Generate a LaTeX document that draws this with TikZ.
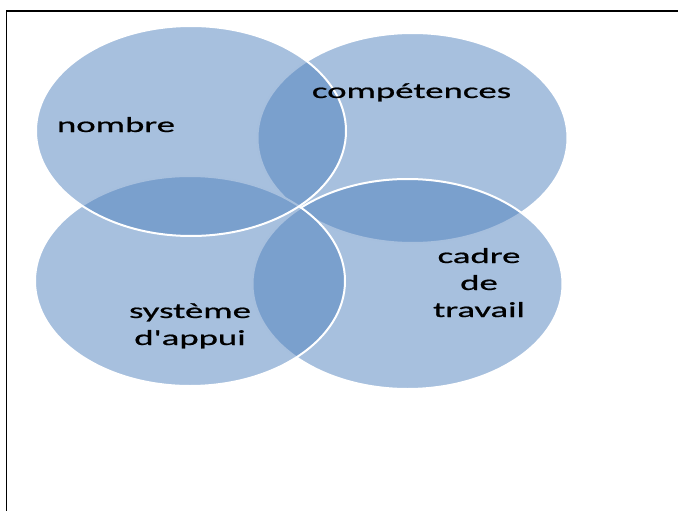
\documentclass[tikz,border=0pt]{standalone}
\usepackage{fontspec}
\newfontfamily\lblfont[FakeStretch=1.71,FakeBold=0.8]{Carlito}
\usetikzlibrary{shapes.geometric}
\definecolor{officeblue}{HTML}{4F81BD}
\begin{document}
\begin{tikzpicture}[x=1pt,y=-1pt,
  blob/.style={ellipse, minimum width=310pt, minimum height=210pt, inner sep=0pt,
    fill=officeblue, fill opacity=0.5, draw=white, line width=2pt},
  lbl/.style={font=\lblfont\fontsize{21.5}{27}\selectfont, text=black,
    align=center, inner sep=0pt, anchor=base}]
\useasboundingbox (0,0) rectangle (678,511);
\node[blob] (tr) at (412.5,138) {};
\node[blob] (br) at (407.5,284) {};
\node[blob] (bl) at (190,281) {};
\node[blob] (tl) at (191,131) {};
\coordinate (fa) at (6.7,511);
\coordinate (fb) at (6.7,10.8);
\coordinate (fc) at (678,10.8);
\draw[line width=1.5pt] (fa) -- (fb) -- (fc);
\node[lbl] (nombre) at (116,132) {nombre};
\node[lbl] (comp) at (411.5,98) {compétences};
\node[lbl] (cadre) at (479,317) {cadre\\de\\travail};
\node[lbl] (systeme) at (190,345) {système\\d'appui};
\end{tikzpicture}
\end{document}
